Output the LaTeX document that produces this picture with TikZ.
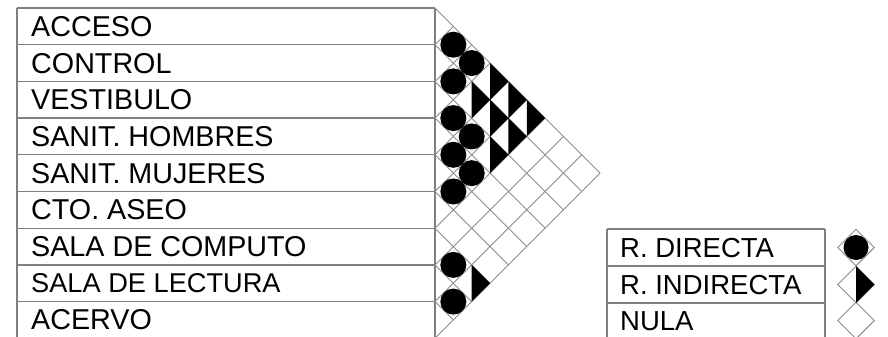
\documentclass[tikz,border=0pt]{standalone}
\usepackage{fontspec}
\setmainfont{Liberation Sans}
\begin{document}
\begin{tikzpicture}[x=1pt,y=-1pt,
  tline/.style={draw=black!50, line width=1.3pt},
  gline/.style={draw=black!45, line width=0.9pt},
  lbl/.style={anchor=base west, inner sep=0pt, font=\fontsize{28.7}{32}\selectfont},
  leglbl/.style={anchor=base west, inner sep=0pt, font=\fontsize{27.5}{30}\selectfont},
  relfill/.style={fill=black}]
\useasboundingbox (0,0) rectangle (888,337);
\def\p{36.7}
\def\h{18.35}
\def\xo{435}
% left table
\draw[tline] (17,8) -- (\xo,8);
\draw[tline] (17,8) -- (17,337);
\foreach \k in {1,...,8} \draw[tline] (17,{8+\k*\p}) -- (\xo,{8+\k*\p});
\draw[tline] (\xo,8) -- (\xo,337);
% labels
\foreach \t [count=\n from 0] in {ACCESO,CONTROL,VESTIBULO,SANIT. HOMBRES,SANIT. MUJERES,CTO. ASEO,SALA DE COMPUTO}
  \node[lbl] (r\n) at (31,{8+(\n+0.5)*\p+10}) {\t};
\node[lbl, font=\fontsize{27.2}{30}\selectfont] (r7) at (31,{8+7.5*\p+9.5}) {SALA DE LECTURA};
\node[lbl] (r8) at (31,{8+8.5*\p+10}) {ACERVO};
% matrix grid
\foreach \k in {0,...,8} \draw[gline] (\xo,{8+\k*\p}) -- ++({(9-\k)*\h},{(9-\k)*\h});
\foreach \k in {1,...,9} \draw[gline] (\xo,{8+\k*\p}) -- ++({\k*\h},{-\k*\h});
% direct relations
\foreach \i/\d in {0/1,1/1,2/1,3/1,4/1,6/1,7/1,0/2,2/2,3/2}
  \fill[relfill] ({\xo+\d*\h},{8+(\i+\d/2+0.5)*\p}) circle[radius=13];
% indirect relations
\foreach \i/\d in {1/2,6/2,0/3,1/3,2/3,0/4,1/4,0/5}
  \fill[relfill] ({\xo+\d*\h},{8+(\i+\d/2+0.5)*\p-\h}) -- ++(\h,\h) -- ++(-\h,\h) -- cycle;
% legend table
\draw[tline] (607,229) -- (825,229);
\draw[tline] (607,266) -- (825,266);
\draw[tline] (607,303) -- (825,303);
\draw[tline] (607,229) -- (607,337);
\draw[tline] (825,229) -- (825,337);
\node[leglbl] (ld) at (620,{247.5+10}) {R. DIRECTA};
\node[leglbl] (li) at (620,{284.5+10}) {R. INDIRECTA};
\node[leglbl] (ln) at (620,{320.5+10}) {NULA};
\foreach \c in {247.5,284.5,320.5}
  \draw[gline] ({856-\h},\c) -- (856,{\c-\h}) -- ({856+\h},\c) -- (856,{\c+\h}) -- cycle;
\fill[relfill] (856,247.5) circle[radius=12.5];
\fill[relfill] (856,{284.5-\h}) -- ++(\h,\h) -- ++(-\h,\h) -- cycle;
\end{tikzpicture}
\end{document}
